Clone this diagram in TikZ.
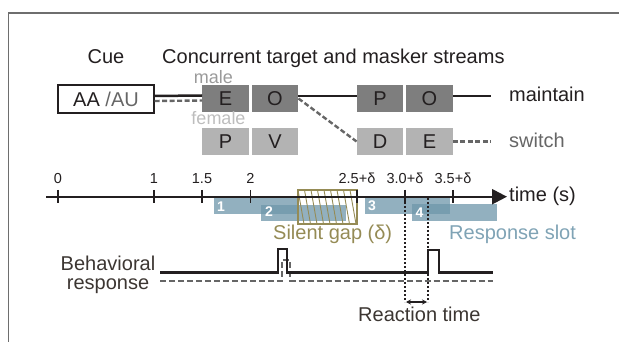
\documentclass[tikz,border=0pt]{standalone}
\usepackage{fontspec}
\setmainfont{Liberation Sans}
\usetikzlibrary{arrows.meta}
\definecolor{ink}{HTML}{231F20}
\definecolor{txt}{HTML}{3C3632}
\definecolor{boxdark}{HTML}{7E7E7E}
\definecolor{boxlight}{HTML}{B3B3B3}
\definecolor{dashgray}{HTML}{666666}
\definecolor{malegray}{HTML}{9A9A9A}
\definecolor{femgray}{HTML}{BDBDBD}
\definecolor{slotblue}{HTML}{6E96AA}
\definecolor{slottext}{HTML}{7FA3B5}
\definecolor{olive}{HTML}{958B55}
\definecolor{framegray}{HTML}{6E6E6E}
\begin{document}
\begin{tikzpicture}[x=1pt,y=-1pt,
  big/.style={font=\fontsize{20}{22}\selectfont, inner sep=0pt},
  mid/.style={font=\fontsize{18}{20}\selectfont, inner sep=0pt},
  small/.style={font=\fontsize{14.5}{16}\selectfont, inner sep=0pt},
  sbox/.style={minimum width=46.5pt, minimum height=27pt, inner sep=0pt, font=\fontsize{20}{22}\selectfont, text=ink},
  dark/.style={sbox, fill=boxdark},
  light/.style={sbox, fill=boxlight},
  solidline/.style={draw=ink, line width=2.5pt},
  dashline/.style={draw=dashgray, line width=2.4pt, dash pattern=on 5pt off 2.5pt},
  slot/.style={fill=slotblue, fill opacity=0.75, draw=none},
  slotnum/.style={font=\fontsize{14}{16}\selectfont\bfseries, text=white, inner sep=0pt, anchor=base west},
  tick/.style={draw=ink, line width=1.4pt},
  ticklab/.style={small, text=ink, anchor=base},
  dotline/.style={draw=ink, line width=2pt, dash pattern=on 2pt off 2pt}
]
\useasboundingbox (0,0) rectangle (619,342);
% frame
\draw[framegray, line width=1.6pt] (8.5,342) -- (8.5,13) -- (619,13);

% titles
\node[big, text=ink, anchor=base] (cuelab) at (106,63.3) {Cue};
\node[big, text=ink, anchor=base west] (conclab) at (162,63.3) {Concurrent target and masker streams};

% cue box
\node[draw=ink, line width=1.2pt, minimum width=96pt, minimum height=28pt, inner sep=0pt,
      font=\fontsize{20}{22}\selectfont, text=ink] (cue) at (106,99) {AA \textcolor{dashgray}{/AU}};

% stream boxes
\node[dark] (E1) at (225.5,98.5) {E};
\node[dark] (O1) at (275,98.5) {O};
\node[dark] (P2) at (380,98.5) {P};
\node[dark] (O2) at (429.5,98.5) {O};
\node[light] (P1) at (225.5,141.5) {P};
\node[light] (V1) at (275,141.5) {V};
\node[light] (D2) at (380,141.5) {D};
\node[light] (E2) at (429.5,141.5) {E};

\node[mid, text=malegray, anchor=base] (male) at (213.5,83.5) {male};
\node[mid, text=femgray, anchor=base] (female) at (218.5,125) {female};

% stream connectors
\draw[solidline] ([yshift=3pt]cue.east) -- ([yshift=3pt]E1.west);
\draw[dashline] ([yshift=-2pt]cue.east) -- ([yshift=-2pt]E1.west);
\draw[solidline] ([yshift=2.5pt]O1.east) -- ([yshift=2.5pt]P2.west);
\draw[dashline] (O1.east) -- (D2.west);
\coordinate (mend) at (491,96);
\coordinate (send) at (491,141.5);
\draw[solidline] ([yshift=2.5pt]O2.east) -- (mend);
\draw[dashline] (E2.east) -- (send);
\node[big, text=ink, anchor=base west] (maintain) at (509,101.7) {maintain};
\node[big, text=dashgray, anchor=base west] (switch) at (509,148) {switch};

% response slots
\fill[slot] (214,197.7) rectangle (299,214) coordinate (s1);
\fill[slot] (261,205) rectangle (346,220.7) coordinate (s2);
\fill[slot] (365,197.5) rectangle (450,214) coordinate (s3);
\fill[slot] (412,204.5) rectangle (497,221) coordinate (s4);
\node[slotnum] (n1) at (217,211.5) {1};
\node[slotnum] (n2) at (265,217) {2};
\node[slotnum] (n3) at (368,210.7) {3};
\node[slotnum] (n4) at (415.5,217.3) {4};

% silent gap box
\begin{scope}
\clip (298,190) rectangle (357,224);
\foreach \i in {0,...,10} {
  \draw[olive, line width=0.9pt] (298+\i*6.5,190) -- (304+\i*6.5,224);
}
\end{scope}
\draw[olive, line width=1.1pt] (298,190) rectangle (357,224);

% time axis
\coordinate (axstart) at (46,196.7);
\coordinate (axend) at (507,196.7);
\draw[ink, line width=2.3pt, -{Triangle[length=15pt,width=15pt]}] (axstart) -- (axend);
\node[big, text=ink, anchor=base west] (timelab) at (509,201.7) {time (s)};
\foreach \xx/\lab in {58/0,154/1,202/1.5,250.5/2,357/{2.5+δ},405/{3.0+δ},453/{3.5+δ}} {
  \draw[tick] (\xx,190) -- (\xx,203);
  \node[ticklab] at (\xx,183.3) {\lab};
}

\node[big, text=olive, anchor=base west] (gaplab) at (273,240) {Silent gap (δ)};
\node[big, text=slottext, anchor=base west] (slotlab) at (449,240) {Response slot};

% behavioral response
\node[big, text=txt, align=center, anchor=north] (beh) at (108,256) {Behavioral\\[-3.5pt]response};
\draw[dashline, dash pattern=on 6pt off 3pt] (160,280.7) -- (282,280.7) -- (282,260) -- (290,260) -- (290,280.7) -- (493,280.7);
\draw[draw=ink, line width=2.6pt] (160,272.7) -- (278,272.7) -- (278,249) -- (287,249) -- (287,272.7) -- (428,272.7) -- (428,250) -- (439,250) -- (439,272.7) -- (493,272.7);

% reaction time
\coordinate (rt1top) at (405,190);
\coordinate (rt1bot) at (405,302);
\coordinate (rt2top) at (428,198);
\coordinate (rt2bot) at (428,302);
\draw[dotline] (rt1top) -- (rt1bot);
\draw[dotline] (rt2top) -- (rt2bot);
\draw[ink, line width=1.5pt, {Stealth[length=5pt,width=5pt]}-{Stealth[length=5pt,width=5pt]}] ([xshift=1pt]rt1bot) -- ([xshift=-1pt]rt2bot);
\node[big, text=txt, anchor=base west] (rtlab) at (358,321.7) {Reaction time};
\end{tikzpicture}
\end{document}
